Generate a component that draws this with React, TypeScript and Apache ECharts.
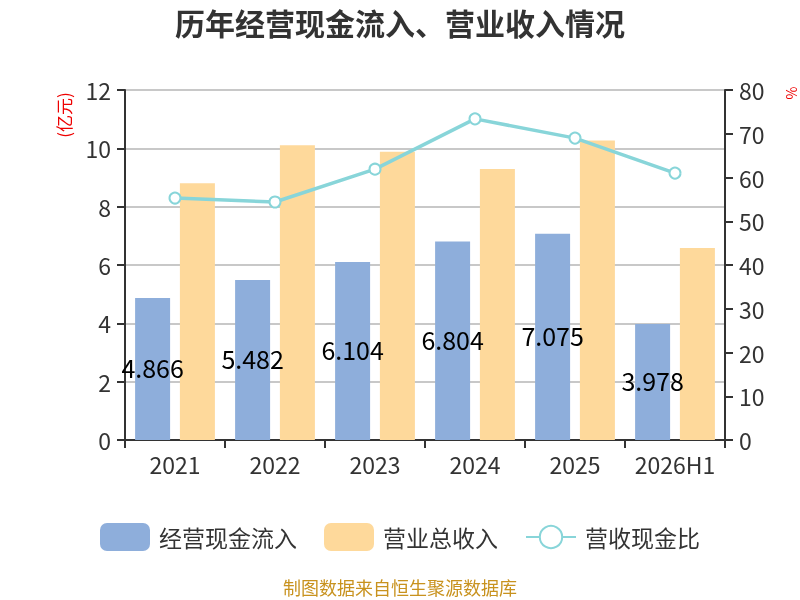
import React, { useEffect, useRef } from "react";
import * as echarts from "echarts";

const categories = ["2021", "2022", "2023", "2024", "2025", "2026H1"];
const cashInflow = [4.866, 5.482, 6.104, 6.804, 7.075, 3.978];
const revenue = [8.8, 10.11, 9.88, 9.29, 10.27, 6.58];
const ratio = [55.3, 54.4, 61.9, 73.4, 69.0, 61.0];

const FONT = "'Noto Sans CJK SC', 'Noto Sans', sans-serif";

export default function App() {
  const ref = useRef<HTMLDivElement>(null);
  useEffect(() => {
    if (!ref.current) return;
    const chart = echarts.init(ref.current, null, { renderer: "svg" });
    chart.setOption({
      animation: false,
      textStyle: { fontFamily: FONT },
      title: {
        text: "历年经营现金流入、营业收入情况",
        left: "center",
        top: 2,
        textStyle: { fontSize: 30, fontWeight: "bold", color: "#333", fontFamily: FONT },
      },
      grid: { left: 125, right: 75, top: 90, bottom: 160 },
      legend: {
        top: 518,
        left: "center",
        itemWidth: 50,
        itemHeight: 28,
        itemGap: 27,
        textStyle: { fontSize: 23, color: "#333", fontFamily: FONT, padding: [0, 0, 0, 4] },
        data: [
          { name: "经营现金流入", icon: "roundRect" },
          { name: "营业总收入", icon: "roundRect" },
          { name: "营收现金比" },
        ],
      },
      xAxis: {
        type: "category",
        data: categories,
        axisLine: { lineStyle: { color: "#333", width: 2 } },
        axisTick: { show: true, length: 8, lineStyle: { color: "#333", width: 2 } },
        axisLabel: { fontSize: 23, color: "#333", margin: 12, interval: 0 },
      },
      yAxis: [
        {
          type: "value",
          min: 0,
          max: 12,
          interval: 2,
          axisLine: { show: true, lineStyle: { color: "#333", width: 2 } },
          axisTick: { show: true, length: 8, lineStyle: { color: "#333", width: 2 } },
          axisLabel: { fontSize: 23, color: "#333", margin: 14 },
          splitLine: { lineStyle: { color: "#c8c8c8", width: 2 } },
        },
        {
          type: "value",
          min: 0,
          max: 80,
          interval: 10,
          axisLine: { show: true, lineStyle: { color: "#333", width: 2 } },
          axisTick: { show: true, length: 8, lineStyle: { color: "#333", width: 2 } },
          axisLabel: { fontSize: 23, color: "#333", margin: 14 },
          splitLine: { show: false },
        },
      ],
      graphic: [
        {
          type: "text",
          x: 63,
          y: 115,
          rotation: Math.PI / 2,
          style: {
            text: "(亿元)",
            fill: "#e00",
            fontSize: 17,
            fontFamily: FONT,
            align: "center",
            verticalAlign: "middle",
          },
        },
        {
          type: "text",
          x: 791,
          y: 93,
          rotation: Math.PI / 2,
          style: {
            text: "%",
            fill: "#e00",
            fontSize: 14,
            fontFamily: FONT,
            align: "center",
            verticalAlign: "middle",
          },
        },
        {
          type: "text",
          x: 400,
          y: 587,
          style: {
            text: "制图数据来自恒生聚源数据库",
            fill: "#c8921e",
            fontSize: 18,
            fontFamily: FONT,
            align: "center",
            verticalAlign: "middle",
          },
        },
      ],
      series: [
        {
          name: "经营现金流入",
          type: "bar",
          data: cashInflow,
          barWidth: 35,
          barGap: "28%",
          itemStyle: { color: "#8eaedb" },
          label: {
            show: true,
            position: "inside",
            color: "#000",
            fontSize: 25,
            fontFamily: FONT,
            offset: [0, -2],
          },
        },
        {
          name: "营业总收入",
          type: "bar",
          data: revenue,
          barWidth: 35,
          itemStyle: { color: "#fed99b" },
        },
        {
          name: "营收现金比",
          type: "line",
          yAxisIndex: 1,
          data: ratio,
          symbol: "emptyCircle",
          symbolSize: 11,
          lineStyle: { color: "#88d5d9", width: 3.5 },
          itemStyle: { color: "#88d5d9", borderWidth: 2 },
        },
      ],
    });
    return () => chart.dispose();
  }, []);
  return (
    <div
      ref={ref}
      style={{ position: "fixed", left: 0, top: 0, width: 800, height: 600 }}
    />
  );
}
